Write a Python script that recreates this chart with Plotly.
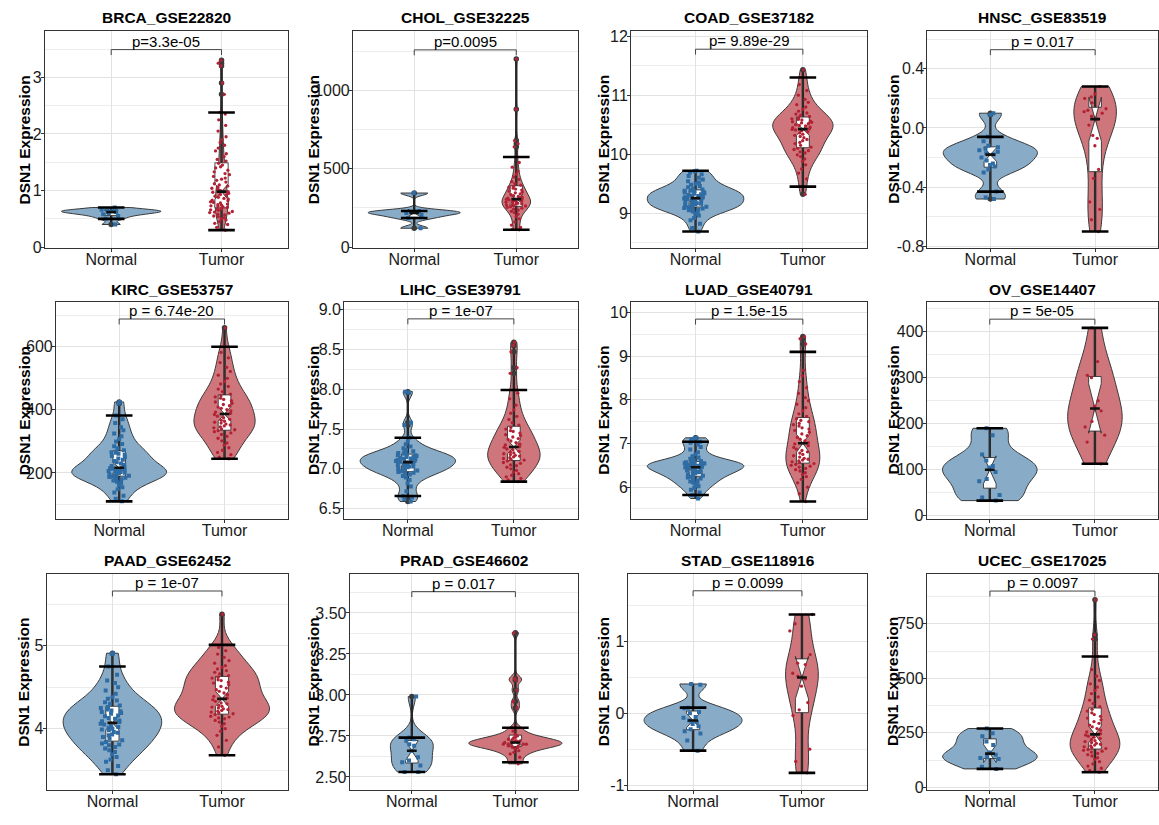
import numpy as np
import plotly.graph_objects as go

W, H = 1159, 825
groups = ["Normal", "Tumor"]

titles = ["BRCA_GSE22820", "CHOL_GSE32225", "COAD_GSE37182", "HNSC_GSE83519",
          "KIRC_GSE53757", "LIHC_GSE39791", "LUAD_GSE40791", "OV_GSE14407",
          "PAAD_GSE62452", "PRAD_GSE46602", "STAD_GSE118916", "UCEC_GSE17025"]
p_labels = ["p=3.3e-05", "p=0.0095", "p= 9.89e-29", "p = 0.017",
            "p = 6.74e-20", "p = 1e-07", "p = 1.5e-15", "p = 5e-05",
            "p = 1e-07", "p = 0.017", "p = 0.0099", "p = 0.0097"]

# ---------------- data (DSN1 expression per sample) ----------------
brca_normal = [0.40, 0.50, 0.55, 0.58, 0.60, 0.62, 0.63, 0.64, 0.65, 0.66, 0.70]
brca_tumor = [0.30, 0.35, 0.40, 0.42, 0.45, 0.48, 0.50, 0.52, 0.54, 0.55,
              0.57, 0.58, 0.60, 0.61, 0.62, 0.63, 0.65, 0.66, 0.67, 0.68,
              0.70, 0.71, 0.72, 0.73, 0.74, 0.75, 0.76, 0.78, 0.79, 0.80,
              0.82, 0.83, 0.85, 0.86, 0.88, 0.90, 0.92, 0.93, 0.95, 0.97,
              0.98, 1.00, 1.02, 1.04, 1.06, 1.08, 1.10, 1.12, 1.15, 1.18,
              1.20, 1.22, 1.25, 1.28, 1.30, 1.33, 1.36, 1.40, 1.42, 1.45,
              1.48, 1.52, 1.55, 1.60, 1.65, 1.70, 1.75, 1.80, 1.85, 1.90,
              1.95, 2.05, 2.15, 2.25, 2.35, 2.38, 2.70, 2.90, 3.20, 3.25, 3.30]

chol_normal = [120, 185, 205, 218, 225, 230, 345]
chol_tumor = [110, 115, 125, 140, 160, 180, 195, 210, 220, 228, 236, 242, 248, 253, 258,
              262, 265, 268, 271, 274, 277, 280, 283, 286, 289, 292, 295, 298, 301, 304,
              308, 313, 318, 323, 328, 334, 340, 346, 352, 358, 364, 370, 376, 382, 388,
              395, 405, 418, 432, 448, 465, 485, 510, 540, 575, 640, 660, 680, 880, 1200]

coad_normal = [8.69, 8.75, 8.82, 8.88, 8.92, 8.96, 8.99, 9.01, 9.03, 9.05, 9.06, 9.07, 9.08, 9.09, 9.10,
               9.11, 9.12, 9.13, 9.14, 9.15, 9.16, 9.17, 9.18, 9.19, 9.20, 9.21, 9.22, 9.23, 9.24, 9.25,
               9.26, 9.27, 9.28, 9.29, 9.30, 9.31, 9.32, 9.33, 9.34, 9.35, 9.36, 9.37, 9.38, 9.38, 9.39,
               9.40, 9.42, 9.44, 9.46, 9.48, 9.50, 9.52, 9.54, 9.57, 9.60, 9.63, 9.66, 9.69, 9.71, 9.72]
coad_tumor = [9.32, 9.45, 9.58, 9.68, 9.75, 9.82, 9.88, 9.92, 9.96, 9.99, 10.02, 10.04, 10.06, 10.08, 10.10,
              10.12, 10.15, 10.18, 10.20, 10.23, 10.25, 10.28, 10.30, 10.32, 10.34, 10.36, 10.38, 10.40, 10.41, 10.42,
              10.43, 10.45, 10.46, 10.48, 10.49, 10.50, 10.52, 10.53, 10.54, 10.55, 10.56, 10.58, 10.59, 10.60, 10.62,
              10.64, 10.66, 10.68, 10.70, 10.73, 10.76, 10.80, 10.84, 10.88, 10.93, 11.00, 11.08, 11.18, 11.30, 11.43]

hnsc_normal = [-0.48, -0.47, -0.43, -0.30, -0.28, -0.26, -0.25, -0.24, -0.22, -0.20, -0.18,
               -0.17, -0.16, -0.15, -0.14, -0.13, -0.12, -0.09, -0.06, 0.09, 0.10]
hnsc_tumor = [-0.70, -0.62, -0.55, -0.50, -0.34, -0.28, -0.12, -0.07, -0.05, 0.02, 0.06,
              0.08, 0.10, 0.11, 0.12, 0.13, 0.17, 0.20, 0.21, 0.23, 0.28]

kirc_normal = [110, 118, 128, 138, 148, 155, 162, 168, 172, 176, 180, 183, 185, 187, 189,
               191, 193, 195, 197, 199, 201, 203, 205, 206, 207, 208, 209, 211, 213, 215,
               218, 222, 226, 230, 234, 238, 242, 246, 250, 254, 258, 261, 264, 266, 268,
               272, 278, 285, 292, 300, 308, 316, 325, 335, 345, 358, 370, 382, 420, 425]
kirc_tumor = [245, 250, 258, 265, 272, 280, 288, 295, 302, 310, 316, 322, 327, 331, 334,
              337, 340, 343, 346, 349, 352, 355, 358, 361, 364, 367, 370, 375, 380, 385,
              389, 393, 397, 401, 405, 409, 413, 417, 421, 425, 429, 433, 437, 441, 445,
              450, 458, 466, 474, 482, 490, 500, 510, 522, 535, 550, 565, 582, 600, 660]

lihc_normal = [6.59, 6.62, 6.64, 6.66, 6.72, 6.78, 6.82, 6.86, 6.89, 6.91, 6.93, 6.94, 6.95, 6.96,
               6.97, 6.98, 6.99, 7.00, 7.01, 7.02, 7.03, 7.03, 7.04, 7.05, 7.06, 7.06, 7.07, 7.08,
               7.09, 7.10, 7.10, 7.11, 7.12, 7.13, 7.13, 7.14, 7.15, 7.15, 7.16, 7.17, 7.17, 7.18,
               7.19, 7.20, 7.21, 7.22, 7.24, 7.26, 7.28, 7.31, 7.34, 7.39, 7.55, 7.58, 7.96, 7.97]
lihc_tumor = [6.84, 6.86, 6.88, 6.90, 6.92, 6.94, 6.96, 6.98, 7.00, 7.02, 7.04, 7.05, 7.07, 7.08, 7.10,
              7.11, 7.12, 7.13, 7.14, 7.15, 7.16, 7.17, 7.18, 7.19, 7.20, 7.21, 7.22, 7.24, 7.25, 7.27,
              7.28, 7.30, 7.31, 7.33, 7.35, 7.37, 7.38, 7.40, 7.42, 7.43, 7.45, 7.47, 7.48, 7.50, 7.52,
              7.55, 7.58, 7.62, 7.66, 7.70, 7.74, 7.80, 7.88, 7.95, 7.99, 8.20, 8.27, 8.47, 8.55, 8.59]

luad_normal = [5.74, 5.82, 5.88, 5.94, 5.98, 6.02, 6.05, 6.08, 6.10, 6.13, 6.15, 6.18, 6.20, 6.22, 6.24,
               6.26, 6.28, 6.29, 6.31, 6.32, 6.34, 6.35, 6.37, 6.38, 6.39, 6.40, 6.41, 6.42, 6.44, 6.45,
               6.46, 6.47, 6.48, 6.49, 6.50, 6.51, 6.52, 6.53, 6.54, 6.55, 6.55, 6.56, 6.57, 6.57, 6.58,
               6.60, 6.62, 6.65, 6.68, 6.71, 6.75, 6.80, 6.86, 6.92, 6.98, 7.02, 7.04, 7.10, 7.12, 7.13]
luad_tumor = [5.67, 5.85, 6.00, 6.10, 6.18, 6.24, 6.29, 6.33, 6.37, 6.40, 6.43, 6.46, 6.48, 6.50, 6.52, 6.54,
              6.56, 6.58, 6.60, 6.62, 6.64, 6.66, 6.69, 6.72, 6.75, 6.78, 6.81, 6.84, 6.87, 6.91, 6.95, 6.99,
              7.02, 7.06, 7.10, 7.14, 7.18, 7.22, 7.26, 7.30, 7.33, 7.36, 7.40, 7.43, 7.46, 7.50, 7.53, 7.57,
              7.62, 7.68, 7.75, 7.82, 7.90, 7.98, 8.05, 8.15, 8.28, 8.42, 8.55, 8.68, 9.10, 9.28, 9.40, 9.45]

ov_normal = [33, 40, 45, 75, 80, 95, 105, 108, 120, 133, 175, 190]
ov_tumor = [113, 160, 175, 193, 205, 228, 238, 250, 300, 305, 335, 408]

paad_normal = [3.45, 3.50, 3.55, 3.60, 3.63, 3.66, 3.69, 3.72, 3.74, 3.76, 3.78, 3.80, 3.81, 3.82, 3.84,
               3.86, 3.88, 3.90, 3.92, 3.93, 3.95, 3.96, 3.98, 3.99, 4.00, 4.01, 4.02, 4.03, 4.05, 4.06,
               4.08, 4.09, 4.10, 4.12, 4.13, 4.15, 4.16, 4.18, 4.19, 4.20, 4.21, 4.22, 4.23, 4.25, 4.26,
               4.28, 4.30, 4.32, 4.34, 4.36, 4.38, 4.42, 4.46, 4.50, 4.55, 4.58, 4.65, 4.75, 4.90, 4.91]
paad_tumor = [3.68, 3.78, 3.86, 3.92, 3.97, 4.00, 4.03, 4.06, 4.08, 4.10, 4.12, 4.13, 4.14, 4.15, 4.17,
              4.18, 4.19, 4.20, 4.21, 4.22, 4.23, 4.24, 4.25, 4.26, 4.27, 4.28, 4.30, 4.31, 4.33, 4.35,
              4.37, 4.39, 4.41, 4.43, 4.45, 4.47, 4.49, 4.51, 4.53, 4.55, 4.56, 4.58, 4.59, 4.61, 4.62,
              4.64, 4.66, 4.68, 4.70, 4.72, 4.74, 4.76, 4.79, 4.82, 4.86, 4.90, 4.94, 4.98, 5.01, 5.38]

prad_normal = [2.53, 2.53, 2.57, 2.59, 2.60, 2.62, 2.66, 2.69, 2.70, 2.72, 2.73, 2.74, 2.99]
prad_tumor = [2.58, 2.59, 2.62, 2.64, 2.65, 2.66, 2.67, 2.68, 2.68,
              2.69, 2.69, 2.69, 2.70, 2.70, 2.70, 2.70, 2.71, 2.71,
              2.71, 2.72, 2.72, 2.72, 2.73, 2.73, 2.74, 2.74, 2.75,
              2.76, 2.78, 2.80, 2.92, 2.96, 3.03, 3.09, 3.10, 3.38]

stad_normal = [-0.52, -0.38, -0.28, -0.25, -0.22, -0.18, -0.15, -0.12, -0.10,
               -0.06, -0.05, 0.00, 0.02, 0.07, 0.08, 0.40, 0.41]
stad_tumor = [-0.83, -0.67, -0.50, -0.03, 0.05, 0.15, 0.38, 0.48,
              0.56, 0.52, 0.68, 0.70, 0.82, 1.15, 1.25, 1.38]

ucec_normal = [85, 95, 130, 135, 140, 150, 160, 195, 210, 235, 248, 270]
ucec_tumor = [70, 78, 88, 98, 108, 118, 128, 136, 144, 150, 156, 162, 166, 170, 174,
              178, 182, 186, 190, 194, 198, 202, 206, 210, 215, 220, 225, 230, 235, 240,
              246, 254, 262, 270, 278, 286, 294, 302, 310, 318, 326, 334, 342, 350, 358,
              370, 385, 400, 415, 430, 445, 460, 475, 490, 510, 540, 600, 680, 700, 860]

panels = [(brca_normal, brca_tumor), (chol_normal, chol_tumor), (coad_normal, coad_tumor),
          (hnsc_normal, hnsc_tumor), (kirc_normal, kirc_tumor), (lihc_normal, lihc_tumor),
          (luad_normal, luad_tumor), (ov_normal, ov_tumor), (paad_normal, paad_tumor),
          (prad_normal, prad_tumor), (stad_normal, stad_tumor), (ucec_normal, ucec_tumor)]

# ---------------- axis / layout settings ----------------
y_ranges = [[-0.015, 3.82], [-6, 1380], [8.41, 12.09], [-0.811, 0.656],
            [54, 743], [6.37, 9.10], [5.27, 10.25], [-7, 465],
            [3.26, 5.87], [2.42, 3.74], [-1.07, 1.95], [-12, 980]]
y_ticks = [[0, 1, 2, 3], [0, 500, 1000], [9, 10, 11, 12], [-0.8, -0.4, 0.0, 0.4],
           [200, 400, 600], [6.5, 7.0, 7.5, 8.0, 8.5, 9.0], [6, 7, 8, 9, 10], [0, 100, 200, 300, 400],
           [4, 5], [2.5, 2.75, 3.0, 3.25, 3.5], [-1, 0, 1], [0, 250, 500, 750]]
y_minor = [[0.5, 1.5, 2.5, 3.5], [250, 750, 1250], [8.5, 9.5, 10.5, 11.5], [-0.6, -0.2, 0.2, 0.6],
           [100, 300, 500, 700], [6.75, 7.25, 7.75, 8.25, 8.75], [5.5, 6.5, 7.5, 8.5, 9.5],
           [50, 150, 250, 350, 450], [3.5, 4.5, 5.5], [2.625, 2.875, 3.125, 3.375, 3.625],
           [-0.5, 0.5, 1.5], [125, 375, 625, 875]]
tick_fmt = ["{:.0f}", "{:.0f}", "{:.0f}", "{:.1f}", "{:.0f}", "{:.1f}",
            "{:.0f}", "{:.0f}", "{:.0f}", "{:.2f}", "{:.0f}", "{:.0f}"]
bracket_y = [3.49, 1259, 11.78, 0.529, 688, 8.884, 9.85, 427, 5.66, 3.63, 1.71, 900]

plot_left = [45, 353.3, 631.7, 928.3, 56, 344.5, 631.7, 927.5, 46.7, 350, 628.3, 927.7]
plot_right = [288, 578, 868, 1159]
row_top = [28.3, 302.7, 578.3]
row_bottom = [248.3, 523, 797.7]

FILL = {"Normal": "#88ABC8", "Tumor": "#CE767C"}
PT_COLOR = {"Normal": "#2F6CA3", "Tumor": "#B22234"}
PT_SYMBOL = {"Normal": "square", "Tumor": "circle"}
PT_SIZE = {"Normal": 4, "Tumor": 3.3}
FONT = "Liberation Sans, Arial, Helvetica, sans-serif"
GRID = "#E2E2E2"
GRID_MINOR = "#EDEDED"


def nrd0(v):
    v = np.asarray(v, float)
    q1, q3 = np.percentile(v, [25, 75])
    s = min(np.std(v, ddof=1), (q3 - q1) / 1.34)
    if s <= 0:
        s = np.std(v, ddof=1)
    return 0.9 * s * len(v) ** (-0.2)


def kde_peak(v, bw):
    v = np.asarray(v, float)
    grid = np.linspace(v.min(), v.max(), 512)
    d = np.exp(-0.5 * ((grid[:, None] - v[None, :]) / bw) ** 2).sum(1)
    return (d / (len(v) * bw * np.sqrt(2 * np.pi))).max()


def fences(v):
    v = np.sort(np.asarray(v, float))
    q1, q3 = np.percentile(v, [25, 75])
    iqr = q3 - q1
    lo = v[v >= q1 - 1.5 * iqr].min()
    hi = v[v <= q3 + 1.5 * iqr].max()
    return lo, hi


fig = go.Figure()
layout = dict(width=W, height=H, margin=dict(l=0, r=0, t=0, b=0),
              paper_bgcolor="white", plot_bgcolor="white", showlegend=False,
              boxmode="overlay", violinmode="overlay")
annotations = []
shapes = []

for k, (vn, vt) in enumerate(panels):
    r, c = divmod(k, 4)
    sfx = "" if k == 0 else str(k + 1)
    xa, ya = "x" + sfx, "y" + sfx
    data = {"Normal": vn, "Tumor": vt}

    # violins (area-scaled like ggplot)
    bws = {g: nrd0(data[g]) for g in groups}
    peaks = {g: kde_peak(data[g], bws[g]) for g in groups}
    pmax = max(peaks.values())
    for g in groups:
        fig.add_trace(go.Violin(
            x=[g] * len(data[g]), y=data[g], xaxis=xa, yaxis=ya,
            fillcolor=FILL[g], line=dict(color="#3A3A3A", width=1),
            spanmode="hard", points=False, box_visible=False, meanline_visible=False,
            bandwidth=bws[g], width=0.9 * peaks[g] / pmax,
            scalemode="width", scalegroup="v%d%s" % (k, g), hoverinfo="skip"))

    # thick range line (min -> max)
    meds = [float(np.median(data[g])) for g in groups]
    mins = [float(np.min(data[g])) for g in groups]
    maxs = [float(np.max(data[g])) for g in groups]
    fig.add_trace(go.Box(
        x=groups, q1=meds, median=meds, q3=meds, lowerfence=mins, upperfence=maxs,
        xaxis=xa, yaxis=ya, width=0.002, whiskerwidth=0, boxpoints=False,
        line=dict(color="#262626", width=2.4), fillcolor="rgba(0,0,0,0)", hoverinfo="skip"))

    # notched box with outliers
    xs = [g for g in groups for _ in data[g]]
    ys = list(vn) + list(vt)
    fig.add_trace(go.Box(
        x=xs, y=ys, xaxis=xa, yaxis=ya, notched=True, notchwidth=0.5, width=0.12,
        whiskerwidth=0, fillcolor="white", line=dict(color="#333333", width=0.9),
        boxpoints="outliers", jitter=0, pointpos=0,
        marker=dict(color="#3A3A3A", size=5.5), hoverinfo="skip"))

    # jittered sample points
    for g in groups:
        fig.add_trace(go.Box(
            x=[g] * len(data[g]), y=data[g], xaxis=xa, yaxis=ya, width=0.24,
            boxpoints="all", jitter=1, pointpos=0, whiskerwidth=0,
            fillcolor="rgba(0,0,0,0)", line=dict(color="rgba(0,0,0,0)", width=0),
            marker=dict(color=PT_COLOR[g], symbol=PT_SYMBOL[g], size=PT_SIZE[g]),
            hoverinfo="skip"))

    # whisker caps and median marks
    fen = [fences(data[g]) for g in groups]
    fig.add_trace(go.Scatter(
        x=groups + groups, y=[f[0] for f in fen] + [f[1] for f in fen],
        xaxis=xa, yaxis=ya, mode="markers", hoverinfo="skip",
        marker=dict(symbol="line-ew", size=19, color="black",
                    line=dict(color="black", width=2.6))))
    fig.add_trace(go.Scatter(
        x=groups, y=meds, xaxis=xa, yaxis=ya, mode="markers", hoverinfo="skip",
        marker=dict(symbol="line-ew", size=7, color="#111111",
                    line=dict(color="#111111", width=2.6))))

    left, right = plot_left[k], plot_right[c]
    top, bottom = row_top[r], row_bottom[r]
    y0, y1 = y_ranges[k]

    layout["xaxis" + sfx] = dict(
        domain=[left / W, min(right / W, 1.0)], anchor=ya, type="category",
        categoryorder="array", categoryarray=groups, range=[-0.6, 1.6],
        showgrid=True, gridcolor=GRID, gridwidth=1.4, zeroline=False,
        showline=True, mirror=True, linecolor="#333333", linewidth=1.1,
        ticks="outside", ticklen=3, tickcolor="#333333", ticklabelstandoff=-6,
        tickfont=dict(family=FONT, size=16, color="#1A1A1A"), fixedrange=True)
    layout["yaxis" + sfx] = dict(
        domain=[1 - bottom / H, 1 - top / H], anchor=xa, range=[y0, y1],
        tickmode="array", tickvals=y_ticks[k],
        ticktext=[tick_fmt[k].format(t) for t in y_ticks[k]],
        showgrid=True, gridcolor=GRID, gridwidth=1.4, zeroline=False,
        minor=dict(tickmode="array", tickvals=y_minor[k], showgrid=True,
                   gridcolor=GRID_MINOR, gridwidth=0.8, ticks=""),
        showline=True, mirror=True, linecolor="#333333", linewidth=1.1,
        ticks="outside", ticklen=3, tickcolor="#333333", ticklabelstandoff=-4,
        tickfont=dict(family=FONT, size=16, color="#1A1A1A"), fixedrange=True)

    # panel title
    annotations.append(dict(
        text="<b>%s</b>" % titles[k], xref="paper", yref="paper",
        x=((left + right) / 2) / W, y=1 - (r * 275 + 15) / H,
        xanchor="center", yanchor="middle", showarrow=False,
        font=dict(family=FONT, size=15.5, color="black")))
    # y-axis title
    annotations.append(dict(
        text="<b>DSN1 Expression</b>", xref="paper", yref="paper",
        x=(c * 290 + 24) / W, y=1 - ((top + bottom) / 2) / H, textangle=-90,
        xanchor="center", yanchor="middle", showarrow=False,
        font=dict(family=FONT, size=15.5, color="black")))

    # p-value bracket
    tick = 5.5 * (y1 - y0) / (bottom - top)
    yb = bracket_y[k]
    for (xx0, yy0, xx1, yy1) in [(0, yb - tick, 0, yb), (0, yb, 1, yb), (1, yb, 1, yb - tick)]:
        shapes.append(dict(type="line", xref=xa, yref=ya, x0=xx0, y0=yy0, x1=xx1, y1=yy1,
                           line=dict(color="#444444", width=1)))
    annotations.append(dict(
        text=p_labels[k], xref=xa, yref=ya, x=0.5, y=yb, xanchor="center",
        yanchor="bottom", yshift=-2, showarrow=False,
        font=dict(family=FONT, size=15, color="black")))

layout["annotations"] = annotations
layout["shapes"] = shapes
fig.update_layout(**layout)

fig.write_html("out.html", config={"displayModeBar": False},
               post_script="document.body.style.margin='0';")
